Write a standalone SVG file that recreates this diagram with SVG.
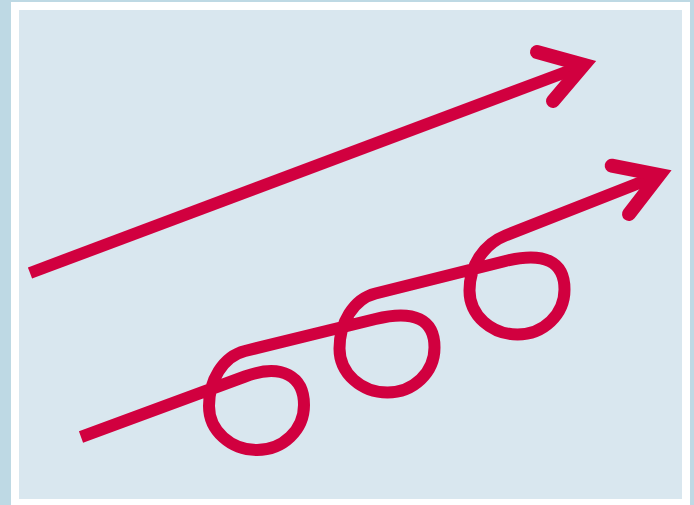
<svg xmlns="http://www.w3.org/2000/svg" width="694" height="505" viewBox="0 0 694 505">
<style>
.line{fill:none;stroke:#d1003f;stroke-width:12;stroke-linecap:butt;stroke-linejoin:round}
.head{fill:none;stroke:#d1003f;stroke-width:14;stroke-linecap:round;stroke-linejoin:miter;stroke-miterlimit:6}
</style>
<rect width="694" height="505" fill="#bed9e4"/>
<rect x="11" y="2" width="679" height="503" fill="#ffffff"/>
<rect x="19" y="10" width="663" height="489" fill="#d9e7ef"/>
<g id="arrow-straight">
<path class="line" d="M30,273 L586,64.5"/>
<polyline class="head" points="537,52 583.7,64.9 553,101"/>
</g>
<g id="arrow-loops">
<path class="line" d="M81,437 L245,376.5
C282.5,362.6 304,377 304,405 C304,430 283,450 257,450 C231,450 209,431 209,406 C209,381 222.7,356.5 245,351
L375.5,319
C414.3,309.5 434.5,319.5 434.5,347.5 C434.5,372.5 413.5,392.5 387.5,392.5 C361.5,392.5 339.5,373.5 339.5,348.5 C339.5,323.5 353.2,299 375.5,293.5
L505.5,261
C544.3,251.5 564.5,261.5 564.5,289.5 C564.5,314.5 543.5,334.5 517.5,334.5 C491.5,334.5 469.5,315.5 469.5,290.5 C469.5,265.5 484.1,243.9 505.5,235.5
L661,174.3"/>
<polyline class="head" points="611.7,165.7 659.1,175 629,214"/>
</g>
</svg>
